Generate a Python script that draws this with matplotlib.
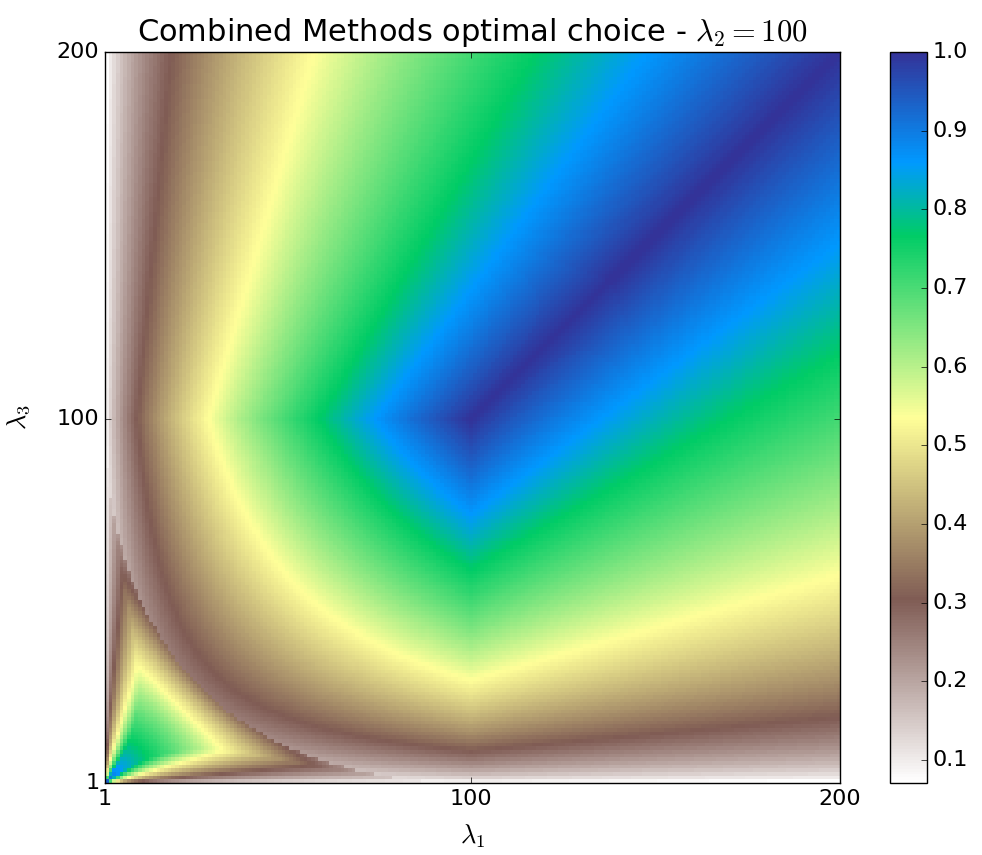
import numpy as np
import matplotlib
matplotlib.use('Agg')
import matplotlib.pyplot as plt

# grid and parameters
lambda2 = 100
lam1 = np.arange(1, 201)
lam3 = np.arange(1, 201)
axis_ticks = [1, 100, 200]
cbar_ticks = [0.1, 0.2, 0.3, 0.4, 0.5, 0.6, 0.7, 0.8, 0.9, 1.0]

# shape of the inner (small lambda) triangle
edge_level = 10.3
inner_slope = 0.35
inner_edge = 0.31
inner_power = 6


def optimal_choice(l1, l3, l2):
    '''
    value of the chosen method at (l1, l3) for fixed l2
    '''
    g = np.sqrt(l1 * l3)
    outer = g / np.maximum(np.maximum(l1, l3), l2)
    q = np.sqrt(l1) + np.sqrt(l3)
    s = q / edge_level
    m = (q / 2) ** 2
    r = m / (1 - inner_slope * s - inner_edge * s ** inner_power)
    inner = g / np.maximum(np.maximum(l1, l3), r)
    return np.where(s < 1, inner, outer)


L1, L3 = np.meshgrid(lam1, lam3)
Z = optimal_choice(L1.astype(float), L3.astype(float), lambda2)

plt.style.use('classic')
plt.rcParams['mathtext.fontset'] = 'cm'

fig = plt.figure(figsize=(9.82, 8.55), dpi=100, facecolor='white')
ax = fig.add_axes([0.1069, 0.0842, 0.7485, 0.855])
cax = fig.add_axes([0.9063, 0.0842, 0.0377, 0.855])

im = ax.imshow(Z, origin='lower', cmap='terrain_r', aspect='auto',
               extent=[lam1[0], lam1[-1], lam3[0], lam3[-1]],
               interpolation='nearest')
ax.set_xticks(axis_ticks)
ax.set_yticks(axis_ticks)
ax.tick_params(labelsize=16)
ax.set_xlabel(r'$\lambda_1$', fontsize=19, labelpad=10)
ax.set_ylabel(r'$\lambda_3$', fontsize=19, labelpad=18)
ax.set_title(r'Combined Methods optimal choice - $\lambda_2=%d$' % lambda2,
             fontsize=22, y=1.005)

cb = fig.colorbar(im, cax=cax, ticks=cbar_ticks)
cb.ax.tick_params(labelsize=16)

fig.savefig('out.png', dpi=100, facecolor='white')
